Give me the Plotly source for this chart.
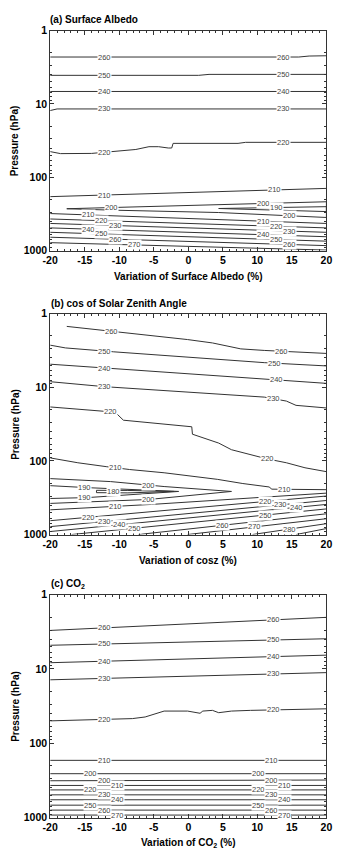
import numpy as np
import plotly.graph_objects as go

W, H = 342, 860
FONT = "Liberation Sans, Arial, Helvetica, sans-serif"

# ---------------- Panel (a) Surface Albedo ----------------
A260_X = [-20, 16, 17.5, 20]
A260_P = [2.29, 2.29, 2.22, 2.20]
A250_X = [-20, 1.5, 3, 20]
A250_P = [4.07, 4.07, 3.95, 3.95]
A240_X = [-20, 20]
A240_P = [6.76, 6.76]
A230_X = [-20, -19, 20]
A230_P = [12.3, 11.7, 11.7]
A220_X = [-20, -18.5, -14.0, -10.8, -7.6, -5.7, -4.3, -2.9, -2.4, -2.2, 7.2, 8.3, 20]
A220_P = [44.7, 47.6, 47.3, 44.5, 41.8, 38.3, 38.3, 39.9, 39.9, 34.5, 34.5, 33.4, 33.4]
A210_X = [-20, 20]
A210_P = [184, 142]
A200_UP_X = [-17.6, -11.1, 0.3, 20]
A200_UP_P = [269, 258, 244, 216]
A200_LO_X = [-17.6, -11.1, 4.4, 20]
A200_LO_P = [269, 281, 303, 354]
A190_UP_X = [4.4, 20]
A190_UP_P = [267, 252]
A190_LO_X = [4.4, 20]
A190_LO_P = [267, 294]
A_LOW_LEVELS = [210, 220, 230, 240, 250, 260, 270]
A_LOW_P_LEFT = [313, 371, 427, 491, 564, 658, 781]
A_LOW_P_RIGHT = [427, 491, 564, 648, 745, 857, 985]

# ---------------- Panel (b) cos of Solar Zenith Angle ----------------
B260_X = [-17.6, -10.8, -0.1, 3.5, 7.6, 11.0, 20]
B260_P = [1.49, 1.74, 2.25, 2.50, 3.01, 3.16, 3.47]
B250_X = [-20, -17.8, -10.8, 11.0, 20]
B250_P = [2.68, 2.92, 3.30, 4.63, 5.13]
B240_X = [-20, -16.4, -10.8, 11.0, 20]
B240_P = [4.86, 5.13, 5.62, 7.73, 8.85]
B230_X = [-20, -12.2, 11.0, 14.2, 15.6, 20]
B230_P = [8.40, 9.80, 13.6, 15.4, 17.6, 19.1]
B220_X = [-20, -10.6, -9.4, 0.5, 0.6, 4.4, 6.25, 11.4, 14.2, 16.9, 20]
B220_P = [18.5, 21.8, 28.0, 34.4, 43.4, 57.3, 70.5, 93.9, 106, 124, 140]
B210_X = [-20, -16.0, -11.8, -8.5, -3.5, 0.3, 4.2, 7.9, 11.7, 12.1, 20]
B210_P = [91.1, 106, 120, 131, 145, 161, 178, 203, 226, 242, 246]
B200_UP_X = [-20, -11.25, -3.5, 6.25]
B200_UP_P = [174, 191, 223, 260]
B200_LO_X = [-20, -5.7, 6.25]
B200_LO_P = [378, 334, 260]
B190_UP_X = [-20, -14.6, -1.4]
B190_UP_P = [217, 231, 260]
B190_LO_X = [-20, -14.6, -1.4]
B190_LO_P = [324, 315, 260]
B180_UP_X = [-13.3, -8.75, -2.1]
B180_UP_P = [251, 252, 260]
B180_LO_X = [-13.3, -8.75, -2.1]
B180_LO_P = [270, 272, 260]
B210L_X = [-20, -5.3, 20]
B210L_P = [462, 390, 274]
B_LOW_LEVELS = [220, 230, 240, 250, 260, 270, 280, 290]
B_LOW_X_START = [-20, -20, -20, -16.9, -7.2, -0.1, 9.3, 15.6]
B_LOW_P_START = [649, 781, 911, 1000, 1000, 1000, 1000, 1000]
B_LOW_P_END = [300, 345, 390, 449, 523, 610, 712, 830]

# ---------------- Panel (c) CO2 ----------------
C_UP_LEVELS = [260, 250, 240, 230]
C_UP_P_LEFT = [3.03, 4.80, 8.24, 14.0]
C_UP_P_RIGHT = [2.02, 3.92, 6.52, 11.2]
C220_X = [-20, -12.2, -8.1, -6.25, -4.3, -3.5, -0.1, 1.0, 1.7, 2.1, 3.5, 4.4, 6.25, 9.0, 15.6, 20]
C220_P = [50.0, 47.5, 46.6, 44.3, 39.5, 36.9, 36.9, 38.8, 39.5, 36.9, 36.1, 38.8, 36.9, 36.1, 35.0, 34.4]
C_LOW_LEVELS = [210, 200, 200, 210, 220, 230, 240, 250, 260, 270]
C_LOW_P_LEFT = [170, 257, 320, 370, 425, 495, 577, 682, 795, 927]
C_LOW_P_RIGHT = [170, 257, 313, 370, 425, 495, 577, 682, 795, 927]

X_TICKS = [-20, -15, -10, -5, 0, 5, 10, 15, 20]
P_TICKS = [1, 10, 100, 1000]

fig = go.Figure()
annotations = []
LINE = dict(color="#333333", width=1)
LABEL_SIZE = 7.5


def axn(i):
    return "" if i == 1 else str(i)


def add_line(i, xs, ps):
    fig.add_trace(go.Scatter(x=list(xs), y=list(ps), mode="lines", line=LINE,
                             xaxis="x" + axn(i), yaxis="y" + axn(i),
                             hoverinfo="skip", showlegend=False))


def add_label(i, xs, ps, lx, text, ly=None):
    if ly is None:
        ly = float(np.interp(lx, xs, np.log10(ps)))
    annotations.append(dict(x=lx, y=ly, xref="x" + axn(i), yref="y" + axn(i),
                            text=str(text), showarrow=False,
                            font=dict(size=LABEL_SIZE, color="#444444", family=FONT),
                            bgcolor="white", borderpad=0))


def contour(i, xs, ps, level, label_xs):
    add_line(i, xs, ps)
    for lx in label_xs:
        add_label(i, xs, ps, lx, level)


def tongue(i, ux, up, lx_, lp, level, up_labels, lo_labels, closed=False):
    xs = list(ux) + list(lx_[::-1])
    ps = list(up) + list(lp[::-1])
    if closed:
        xs.append(ux[0]); ps.append(up[0])
    add_line(i, xs, ps)
    for x in up_labels:
        add_label(i, ux, up, x, level)
    for x in lo_labels:
        add_label(i, lx_, lp, x, level)


STAGGER = [-1.9, 0.0, 1.9]

# ---- panel (a)
contour(1, A260_X, A260_P, 260, [-12.2, 13.75])
contour(1, A250_X, A250_P, 250, [-12.2, 13.75])
contour(1, A240_X, A240_P, 240, [-12.2, 13.75])
contour(1, A230_X, A230_P, 230, [-12.2, 13.75])
contour(1, A220_X, A220_P, 220, [-12.2, 13.75])
contour(1, A210_X, A210_P, 210, [-12.2, 12.5])
tongue(1, A200_UP_X, A200_UP_P, A200_LO_X, A200_LO_P, 200, [-11.1, 10.9], [14.7])
tongue(1, A190_UP_X, A190_UP_P, A190_LO_X, A190_LO_P, 190, [12.8], [])
A_LEFT_LAB = [-14.4, -12.5, -10.6, -14.4, -12.5, -10.6, -7.8]
A_RIGHT_LAB = [10.9, 12.8, 14.7, 10.9, 12.8, 14.7, None]
for lev, pl, pr, lx, rx in zip(A_LOW_LEVELS, A_LOW_P_LEFT, A_LOW_P_RIGHT, A_LEFT_LAB, A_RIGHT_LAB):
    contour(1, [-20, 20], [pl, pr], lev, [v for v in (lx, rx) if v is not None])

# ---- panel (b)
contour(2, B260_X, B260_P, 260, [-11.1, 13.5])
contour(2, B250_X, B250_P, 250, [-12.2, 12.5])
contour(2, B240_X, B240_P, 240, [-12.2, 12.8])
contour(2, B230_X, B230_P, 230, [-12.2, 12.4])
contour(2, B220_X, B220_P, 220, [-11.25, 11.4])
contour(2, B210_X, B210_P, 210, [-10.6, 13.9])
tongue(2, B200_UP_X, B200_UP_P, B200_LO_X, B200_LO_P, 200, [-5.7], [-5.7])
tongue(2, B190_UP_X, B190_UP_P, B190_LO_X, B190_LO_P, 190, [-15], [-15])
tongue(2, B180_UP_X, B180_UP_P, B180_LO_X, B180_LO_P, 180, [], [], closed=True)
add_label(2, B180_UP_X, B180_UP_P, -10.8, 180,
          ly=0.5 * (np.interp(-10.8, B180_UP_X, np.log10(B180_UP_P)) +
                    np.interp(-10.8, B180_LO_X, np.log10(B180_LO_P))))
contour(2, B210L_X, B210L_P, 210, [-10.6])
B_LABS = {220: [-14.4, 11.2], 230: [-12.2, 13.4], 240: [-10.0, 15.6], 250: [-7.8, 11.2],
          260: [4.9], 270: [9.6], 280: [14.6], 290: []}
for lev, xs0, ps0, pe in zip(B_LOW_LEVELS, B_LOW_X_START, B_LOW_P_START, B_LOW_P_END):
    contour(2, [xs0, 20], [ps0, pe], lev, B_LABS[lev])

# ---- panel (c)
for lev, pl, pr in zip(C_UP_LEVELS, C_UP_P_LEFT, C_UP_P_RIGHT):
    contour(3, [-20, 20], [pl, pr], lev, [-12.2, 12.4])
contour(3, C220_X, C220_P, 220, [-12.2, 12.4])
for k, (lev, pl, pr) in enumerate(zip(C_LOW_LEVELS, C_LOW_P_LEFT, C_LOW_P_RIGHT)):
    if k == 0:
        labs = [-12.2, 12.1]
    else:
        off = STAGGER[(k - 1) % 3]
        labs = [-12.2 + off, 12.1 + off]
    contour(3, [-20, 20], [pl, pr], lev, labs)

# ---- axes
X_DOM = [44 / W, 332 / W]
Y_PIX = [(25, 248), (312, 536), (597, 823)]
TICKFONT = dict(family=FONT, size=10.5, color="black", weight="bold")
MINOR_P = [m * 10 ** e for e in range(3) for m in range(2, 10)]

layout = dict(width=W, height=H, margin=dict(l=0, r=0, t=0, b=0),
              paper_bgcolor="white", plot_bgcolor="white", showlegend=False)
for i, (yt, yb) in enumerate(Y_PIX, start=1):
    n = axn(i)
    layout["xaxis" + n] = dict(
        domain=X_DOM, anchor="y" + n, range=[-20, 20], tickmode="array",
        tickvals=X_TICKS, ticktext=[str(v) for v in X_TICKS],
        ticks="inside", ticklen=4, tickwidth=1, tickcolor="#333",
        minor=dict(dtick=1, tick0=0, ticks="inside", ticklen=2, tickwidth=1, tickcolor="#333"),
        showline=True, linecolor="#333", linewidth=1, mirror="allticks",
        showgrid=False, zeroline=False, tickfont=TICKFONT)
    layout["yaxis" + n] = dict(
        domain=[1 - yb / H, 1 - yt / H], anchor="x" + n, type="log", range=[3, 0],
        tickmode="array", tickvals=P_TICKS, ticktext=[str(v) for v in P_TICKS],
        ticks="inside", ticklen=4, tickwidth=1, tickcolor="#333",
        minor=dict(tickmode="array", tickvals=MINOR_P, ticks="inside", ticklen=2,
                   tickwidth=1, tickcolor="#333"),
        showline=True, linecolor="#333", linewidth=1, mirror="allticks",
        showgrid=False, zeroline=False, tickfont=TICKFONT)


def paper_text(text, px, py, anchor="center", angle=0, size=10):
    annotations.append(dict(x=px / W, y=1 - py / H, xref="paper", yref="paper",
                            text=text, showarrow=False, xanchor=anchor, yanchor="middle",
                            textangle=angle, font=dict(family=FONT, size=size, color="black")))


paper_text("<b>(a) Surface Albedo</b>", 42, 14, anchor="left")
paper_text("<b>(b) cos of Solar Zenith Angle</b>", 43, 302, anchor="left")
paper_text("<b>(c) CO<sub>2</sub></b>", 43, 586, anchor="left")
paper_text("<b>Variation of Surface Albedo (%)</b>", 188, 274)
paper_text("<b>Variation of cosz (%)</b>", 188, 562)
paper_text("<b>Variation of CO<sub>2</sub> (%)</b>", 188, 849)
for yt, yb in Y_PIX:
    paper_text("<b>Pressure (hPa)</b>", 7, (yt + yb) / 2, angle=-90)

layout["annotations"] = annotations
fig.update_layout(**layout)
fig.write_html("out.html")
